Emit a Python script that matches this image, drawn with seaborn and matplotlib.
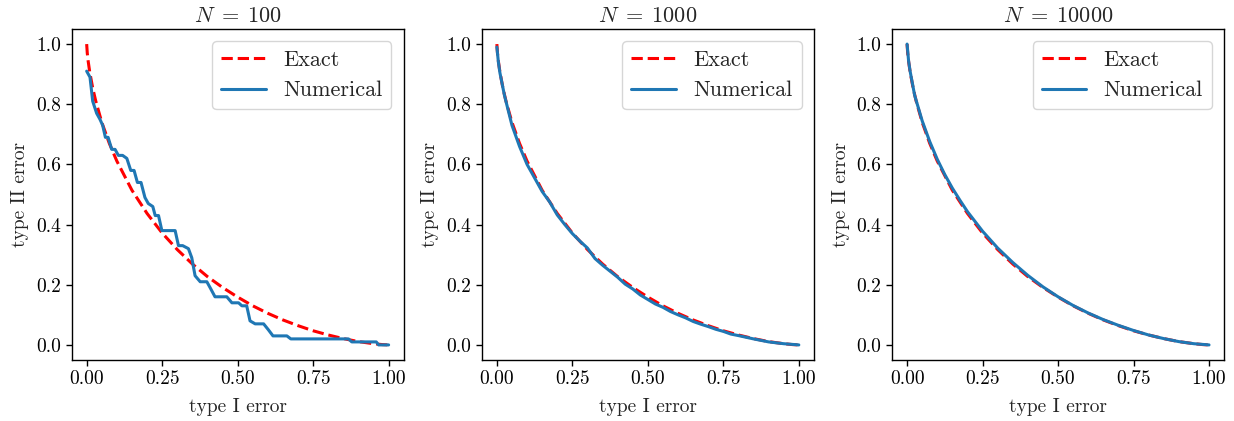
import numpy as np
import pandas as pd
import matplotlib
matplotlib.use("Agg")
import matplotlib.pyplot as plt
import seaborn as sns

# -------------------------------------------------------------------
# Data
# -------------------------------------------------------------------
exact_alpha = [0.0, 0.002, 0.005, 0.01, 0.02, 0.03, 0.05, 0.075, 0.1, 0.15,
               0.2, 0.25, 0.3, 0.35, 0.4, 0.45, 0.5, 0.55, 0.6, 0.65,
               0.7, 0.75, 0.8, 0.85, 0.9, 0.95, 0.98, 1.0]
exact_beta = [1.0, 0.97, 0.943, 0.908, 0.854, 0.811, 0.74, 0.67, 0.611, 0.514,
              0.437, 0.372, 0.317, 0.269, 0.227, 0.191, 0.159, 0.13, 0.105, 0.083,
              0.064, 0.047, 0.033, 0.021, 0.011, 0.004, 0.001, 0.0]

# N = 100 (stair-like empirical curve)
num100_alpha = [0.0, 0.011, 0.02, 0.033, 0.044, 0.053, 0.062, 0.071, 0.083, 0.094,
                0.105, 0.119, 0.133, 0.146, 0.157, 0.168, 0.18, 0.193, 0.204, 0.219,
                0.227, 0.238, 0.249, 0.293, 0.304, 0.318, 0.337, 0.348, 0.359, 0.376,
                0.398, 0.409, 0.425, 0.464, 0.481, 0.503, 0.514, 0.53, 0.541, 0.558,
                0.586, 0.602, 0.617, 0.663, 0.676, 0.867, 0.878, 0.959, 0.967, 1.0]
num100_beta = [0.91, 0.89, 0.81, 0.77, 0.75, 0.73, 0.69, 0.69, 0.65, 0.65,
               0.63, 0.63, 0.62, 0.58, 0.58, 0.54, 0.54, 0.49, 0.47, 0.46,
               0.43, 0.43, 0.38, 0.38, 0.33, 0.33, 0.32, 0.29, 0.23, 0.21,
               0.21, 0.19, 0.16, 0.16, 0.14, 0.14, 0.13, 0.13, 0.08, 0.07,
               0.07, 0.05, 0.03, 0.03, 0.02, 0.02, 0.01, 0.01, 0.0, 0.0]

# N = 1000
num1000_alpha = [0.0, 0.005, 0.01, 0.025, 0.05, 0.075, 0.1, 0.125, 0.15, 0.175,
                 0.2, 0.225, 0.25, 0.275, 0.3, 0.325, 0.35, 0.375, 0.4, 0.425,
                 0.45, 0.475, 0.5, 0.525, 0.55, 0.575, 0.6, 0.625, 0.65, 0.675,
                 0.7, 0.725, 0.75, 0.775, 0.8, 0.85, 0.9, 0.95, 1.0]
num1000_beta = [0.99, 0.94, 0.905, 0.83, 0.73, 0.66, 0.60, 0.555, 0.51, 0.475,
                0.432, 0.40, 0.37, 0.345, 0.322, 0.287, 0.265, 0.245, 0.225, 0.202,
                0.186, 0.166, 0.151, 0.136, 0.125, 0.111, 0.10, 0.09, 0.078, 0.069,
                0.061, 0.052, 0.045, 0.036, 0.031, 0.02, 0.01, 0.004, 0.0]

# N = 10000
num10000_alpha = [0.0, 0.005, 0.01, 0.025, 0.05, 0.075, 0.1, 0.125, 0.15, 0.175,
                  0.2, 0.25, 0.3, 0.35, 0.4, 0.45, 0.5, 0.55, 0.6, 0.65,
                  0.7, 0.75, 0.8, 0.85, 0.9, 0.95, 1.0]
num10000_beta = [1.0, 0.944, 0.91, 0.83, 0.745, 0.676, 0.617, 0.566, 0.521, 0.481,
                 0.443, 0.378, 0.322, 0.274, 0.231, 0.193, 0.16, 0.131, 0.106, 0.084,
                 0.065, 0.048, 0.033, 0.021, 0.011, 0.004, 0.0]

panel_titles = [r"$N\;=\;100$", r"$N\;=\;1000$", r"$N\;=\;10000$"]
numerical = [(num100_alpha, num100_beta),
             (num1000_alpha, num1000_beta),
             (num10000_alpha, num10000_beta)]

# -------------------------------------------------------------------
# Style
# -------------------------------------------------------------------
sns.set_theme(style="ticks")
plt.rcParams['font.family'] = ['cmr10', 'DejaVu Serif']
plt.rcParams['mathtext.fontset'] = 'cm'
plt.rcParams['axes.formatter.use_mathtext'] = True
plt.rcParams['axes.unicode_minus'] = False
plt.rcParams['axes.edgecolor'] = 'black'
plt.rcParams['xtick.color'] = 'black'
plt.rcParams['ytick.color'] = 'black'
plt.rcParams['xtick.labelsize'] = 14
plt.rcParams['ytick.labelsize'] = 14
plt.rcParams['axes.labelsize'] = 14
plt.rcParams['axes.titlesize'] = 16

exact_df = pd.DataFrame({'alpha': exact_alpha, 'beta': exact_beta})

fig, axes = plt.subplots(1, 3, figsize=(12.34, 4.21), dpi=100)
fig.subplots_adjust(left=0.058, right=0.992, top=0.931, bottom=0.145, wspace=0.235)

for ax, title, (na, nb) in zip(axes, panel_titles, numerical):
    num_df = pd.DataFrame({'alpha': na, 'beta': nb})
    sns.lineplot(data=exact_df, x='alpha', y='beta', ax=ax, color='red',
                 linestyle='--', linewidth=2.2, label='Exact',
                 estimator=None, sort=False)
    sns.lineplot(data=num_df, x='alpha', y='beta', ax=ax, color='#1f77b4',
                 linewidth=2.2, label='Numerical', estimator=None, sort=False)
    ax.set_title(title, pad=5)
    ax.set_xlabel('type I error', labelpad=7)
    ax.set_ylabel('type II error', labelpad=5)
    ax.set_xticks([0.0, 0.25, 0.5, 0.75, 1.0])
    ax.set_xticklabels(['0.00', '0.25', '0.50', '0.75', '1.00'])
    ax.set_yticks([0.0, 0.2, 0.4, 0.6, 0.8, 1.0])
    ax.set_yticklabels(['0.0', '0.2', '0.4', '0.6', '0.8', '1.0'])
    ax.set_xlim(-0.05, 1.05)
    ax.set_ylim(-0.05, 1.05)
    for s in ax.spines.values():
        s.set_visible(True)
        s.set_linewidth(1.0)
    ax.tick_params(direction='out', length=4, width=1)
    ax.legend(loc='upper right', fontsize=16, frameon=True, borderaxespad=0.55)

fig.savefig('out.png', dpi=100)
